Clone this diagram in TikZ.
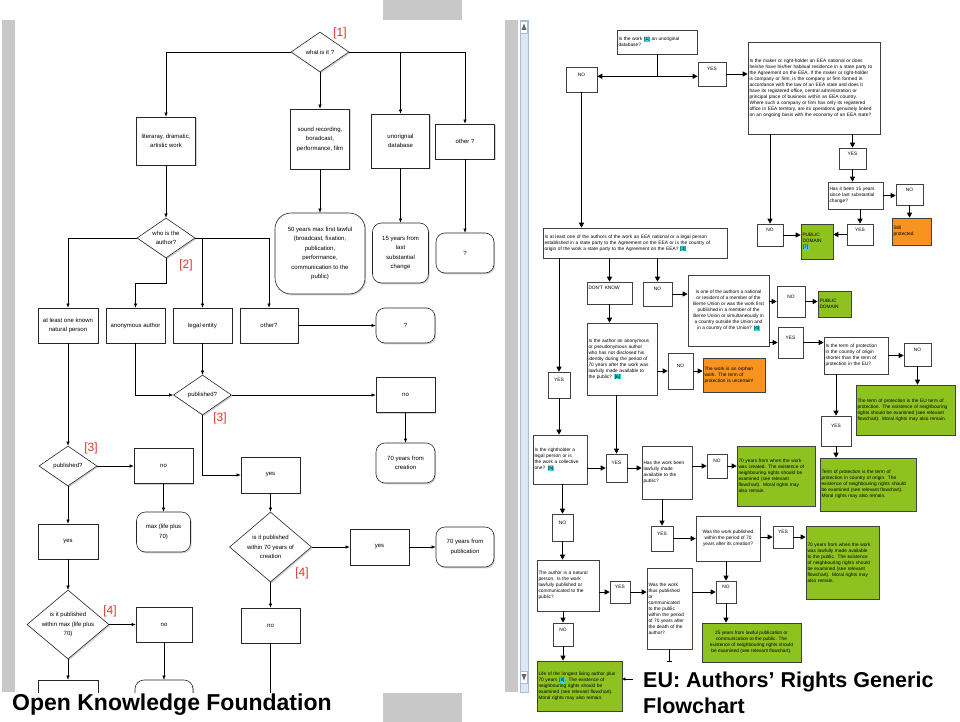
\documentclass[tikz,border=0pt]{standalone}
\usepackage{fontspec}
\setmainfont{Liberation Sans}
\usetikzlibrary{arrows.meta,shapes.geometric,shadows}
\definecolor{slate}{HTML}{C8C8C8}
\definecolor{tagred}{HTML}{D8392B}
\definecolor{leaf}{HTML}{8DC21F}
\definecolor{amber}{HTML}{F7931E}
\definecolor{cyanmark}{HTML}{3FD3E0}
\definecolor{scroll}{HTML}{DDE7F3}
\definecolor{scrolledge}{HTML}{A8BCD6}
\newcommand{\fnref}[1]{{\setlength{\fboxsep}{0.4pt}\colorbox{cyanmark}{#1}}}

\begin{document}
\begin{tikzpicture}[x=1pt,y=-1pt,
 lbox/.style={draw=black!85,line width=.6pt,fill=white,align=center,inner sep=1pt,font=\fontsize{6}{9.5}\selectfont,drop shadow={shadow xshift=1.2pt,shadow yshift=-1.4pt,opacity=.35}},
 lend/.style={lbox,rounded corners=9pt},
 ldec/.style={lbox,diamond,inner sep=-5pt,shape aspect=1.3},
 link/.style={-{Latex[length=4pt,width=3.2pt]},line width=.5pt},
 tag/.style={text=tagred,inner sep=0pt,font=\fontsize{12}{12}\selectfont},
 rbox/.style={draw=black!75,line width=.6pt,fill=white,align=left,inner sep=1.5pt,font=\fontsize{4.8}{6}\selectfont},
 rmid/.style={rbox,align=center},
 ryn/.style={rbox,align=center,text height=3.5pt,text depth=10pt},
 rgreen/.style={rbox,fill=leaf},
 rorange/.style={rbox,fill=amber},
 rlink/.style={-{Triangle[length=5pt,width=5pt]},line width=.9pt},
 title/.style={font=\fontsize{23}{26}\selectfont\bfseries,inner sep=0pt,align=left}]
 \fill[white] (0,0) rectangle (960,722);
 \useasboundingbox (0,0) rectangle (960,722);
 % slide frame
 \fill[slate] (383,0) rectangle (462,20);
 \fill[slate] (383,693) rectangle (462,722);
 \fill[slate] (2,20) rectangle (15,692);
 \fill[slate] (505,20) rectangle (518,692);
 \draw[scrolledge,fill=scroll] (520,20) rectangle (528,692);
 \draw[scrolledge,fill=white] (520.5,21) rectangle (527.5,33);
 \draw[scrolledge,fill=white] (520.5,671) rectangle (527.5,683);
 \fill[black!60] (521.5,30) -- (524,23.5) -- (526.5,30) -- cycle;
 \fill[black!60] (521.5,674) -- (524,680.5) -- (526.5,674) -- cycle;

 % left flowchart
 \begin{scope}
 \clip (15,20) rectangle (505,692);
 \node[ldec,minimum width=58pt,minimum height=40pt] (what) at (320,52) {what is it ?};
 \node[lbox,minimum width=59pt,minimum height=48pt] (lit) at (166,141) {literaray, dramatic,\\artistic work};
 \node[lbox,minimum width=59pt,minimum height=60pt] (snd) at (320,139) {sound recording,\\boradcast,\\performance, film};
 \node[lbox,minimum width=58pt,minimum height=54pt] (udb) at (400.5,141) {unorignial\\database};
 \node[lbox,minimum width=59pt,minimum height=35pt] (oth) at (465,141.5) {other ?};
 \node[ldec,minimum width=58pt,minimum height=40pt] (who) at (166,238) {who is the\\author?};
 \node[lend,rounded corners=16pt,minimum width=90pt,minimum height=81pt] (fifty) at (320,253.5) {50 years max first lawful\\(broadcast, fixation,\\publication,\\performance,\\communication to the\\public)};
 \node[lend,minimum width=56pt,minimum height=60pt] (u15) at (400.5,253) {15 years from\\last\\substantial\\change};
 \node[lend,minimum width=58pt,minimum height=40pt] (uq) at (465,253) {?};
 \node[lbox,minimum width=60pt,minimum height=35pt] (nat) at (68,325.5) {at least one known\\natural person};
 \node[lbox,minimum width=59pt,minimum height=35pt] (anon) at (135.5,325.5) {anonymous author};
 \node[lbox,minimum width=59pt,minimum height=35pt] (leg) at (202.5,325.5) {legal entity};
 \node[lbox,minimum width=58pt,minimum height=35pt] (oth2) at (269,325.5) {other?};
 \node[lend,minimum width=59pt,minimum height=35pt] (oq) at (405.5,325.5) {?};
 \node[ldec,minimum width=58pt,minimum height=40pt] (pub1) at (202.5,395) {published?};
 \node[lbox,minimum width=59pt,minimum height=35pt] (no1) at (405.5,395) {no};
 \node[lend,minimum width=59pt,minimum height=40pt] (cre) at (405.5,463) {70 years from\\creation};
 \node[lbox,minimum width=59pt,minimum height=36pt] (yes1) at (270.5,475) {yes};
 \node[ldec,minimum width=58pt,minimum height=40pt] (pub2) at (68,466) {published?};
 \node[lbox,minimum width=59pt,minimum height=35pt] (no2) at (163.5,466) {no};
 \node[lend,minimum width=54pt,minimum height=40pt] (maxl) at (163.5,532) {max (life plus\\70)};
 \node[lbox,minimum width=60pt,minimum height=35pt] (yes2) at (68,541.5) {yes};
 \node[ldec,minimum width=82pt,minimum height=69pt] (with1) at (68,624.5) {is it published\\within max (life plus\\70)};
 \node[lbox,minimum width=56pt,minimum height=35pt] (no3) at (164,624.5) {no};
 \node[ldec,minimum width=82pt,minimum height=70pt] (with2) at (270.5,547) {is it published\\within 70 years of\\creation};
 \node[lbox,minimum width=59pt,minimum height=36pt] (yes3) at (379.5,547) {yes};
 \node[lend,minimum width=58pt,minimum height=40pt] (pub70) at (465,547) {70 years from\\publication};
 \node[lbox,minimum width=59pt,minimum height=35pt] (no4) at (270.5,625.5) {no};
 \node[lbox,minimum width=60pt,minimum height=35pt] (cut1) at (68,697.5) {};
 \node[lend,minimum width=58pt,minimum height=35pt] (cut2) at (164,697.5) {};
 \coordinate (no4end) at (270.5,700);
 \draw[link] (what.west) -| (lit.north);
 \draw[link] (what.south) -- (snd.north);
 \draw[link] (what.east) -| (udb.north);
 \draw[link] (what.east) -| (oth.north);
 \draw[link] (lit.south) -- (who.north);
 \draw[link] (snd.south) -- (fifty.north);
 \draw[link] (udb.south) -- (u15.north);
 \draw[link] (oth.south) -- (uq.north);
 \draw[link] (who.west) -| (nat.north);
 \draw[link] (who.east) -| (leg.north);
 \draw[link] (who.east) -| (oth2.north);
 \draw[link] (who.south) -- ++(0,25) -| (anon.north);
 \draw[link] (oth2.east) -- (oq.west);
 \draw[link] (anon.south) |- (pub1.west);
 \draw[link] (leg.south) -- (pub1.north);
 \draw[link] (pub1.east) -- (no1.west);
 \draw[link] (no1.south) -- (cre.north);
 \draw[link] (pub1.south) |- (yes1.west);
 \draw[link] (nat.south) -- (pub2.north);
 \draw[link] (pub2.east) -- (no2.west);
 \draw[link] (no2.south) -- (maxl.north);
 \draw[link] (pub2.south) -- (yes2.north);
 \draw[link] (yes2.south) -- (with1.north);
 \draw[link] (with1.east) -- (no3.west);
 \draw[link] (with1.south) -- (cut1.north);
 \draw[link] (no3.south) -- (cut2.north);
 \draw[link] (yes1.south) -- (with2.north);
 \draw[link] (with2.east) -- (yes3.west);
 \draw[link] (yes3.east) -- (pub70.west);
 \draw[link] (with2.south) -- (no4.north);
 \draw[line width=.5pt] (no4.south) -- (no4end);
 \node[tag] (t1) at (340,33) {[1]};
 \node[tag] (t2) at (186,265) {[2]};
 \node[tag] (t3) at (220,418) {[3]};
 \node[tag] (t3b) at (91,448) {[3]};
 \node[tag] (t4) at (110,611) {[4]};
 \node[tag] (t4b) at (302,573) {[4]};
 \end{scope}

 % right flowchart
 \node[rbox,text width=77pt,minimum height=24pt] (r_db) at (657,42) {Is the work \fnref{[1]} an unoriginal\\database?};
 \node[ryn,minimum width=31pt,minimum height=25pt] (r_no1) at (581.5,79.5) {NO};
 \node[ryn,minimum width=28pt,minimum height=24pt] (r_yes1) at (712,74) {YES};
 \node[rbox,text width=129pt,minimum height=92pt] (r_maker) at (814,88) {Is the maker or right-holder an EEA national or does\\he/she have his/her habitual residence in a state party to\\the Agreement on the EEA. If the maker or right-holder\\is company or firm, is the company or firm formed in\\accordance with the law of an EEA state and does it\\have its registered office, central administration or\\principal place of business within an EEA country.\\Where such a company or firm has only its registered\\office in EEA territory, are its operations genuinely linked\\on an ongoing basis with the economy of an EEA state?};
 \node[ryn,minimum width=26pt,minimum height=22pt] (r_no2) at (770,235) {NO};
 \node[ryn,minimum width=27pt,minimum height=21pt] (r_yes2) at (852.5,158.5) {YES};
 \node[rbox,text width=52pt,minimum height=27pt] (r_15y) at (855.5,195.5) {Has it been 15 years\\since last substantial\\change?};
 \node[ryn,minimum width=27pt,minimum height=21pt] (r_no3) at (909.5,194.5) {NO};
 \node[rorange,text width=36pt,minimum height=27pt] (r_still) at (911.5,231.5) {Still\\protected};
 \node[ryn,minimum width=26pt,minimum height=21pt] (r_yes3) at (860,234.5) {YES};
 \node[rgreen,text width=29pt,minimum height=35pt] (r_pd1) at (817,241.5) {PUBLIC\\DOMAIN\\\fnref{[7]}};
 \node[rbox,text width=181pt,minimum height=30pt] (r_eea) at (635,243) {Is at least one of the authors of the work an EEA national or a legal person\\established in a state party to the Agreement on the EEA or is the country of\\origin of the work a state party to the Agreement on the EEA? \fnref{[3]}};
 \node[rbox,text width=42pt,text height=3.5pt,text depth=10pt,minimum height=22pt] (r_dk) at (609.5,293) {DON'T KNOW};
 \node[ryn,minimum width=29pt,minimum height=24pt] (r_no4) at (657.5,294) {NO};
 \node[rmid,minimum width=81pt,minimum height=71pt] (r_berne) at (728.5,310.5) {Is one of the authors a national\\or resident of a member of the\\Berne Union or was the work first\\published in a member of the\\Berne Union or simultaneously in\\a country outside the Union and\\in a country of the Union? \fnref{[4]}};
 \node[ryn,minimum width=28pt,minimum height=31pt] (r_no5) at (791,301.5) {NO};
 \node[rgreen,text width=30pt,minimum height=26pt] (r_pd2) at (834.5,304) {PUBLIC\\DOMAIN};
 \node[ryn,minimum width=25pt,minimum height=31pt] (r_yes4) at (790.5,342.5) {YES};
 \node[rbox,text width=61pt,minimum height=37pt] (r_term) at (856,355.5) {Is the term of protection\\in the country of origin\\shorter than the term of\\protection in the EU?};
 \node[ryn,minimum width=27pt,minimum height=23pt] (r_no6) at (917.5,354.5) {NO};
 \node[rgreen,text width=96pt,minimum height=50pt] (r_euterm) at (905.5,410) {The term of protection is the EU term of\\protection. The existence of neighbouring\\rights should be examined (see relevant\\flowchart). Moral rights may also remain.};
 \node[ryn,minimum width=30pt,minimum height=30pt] (r_yes5) at (836,431) {YES};
 \node[rgreen,text width=93pt,minimum height=53pt] (r_origin) at (868,484.5) {Term of protection is the term of\\protection in country of origin. The\\existence of neighbouring rights should\\be examined (see relevant flowchart).\\Moral rights may also remain.};
 \node[rbox,text width=67pt,minimum height=72pt] (r_anon) at (622,359) {Is the author an anonymous\\or pseudonymous author\\who has not disclosed his\\identity during the period of\\70 years after the work was\\lawfully made available to\\the public? \fnref{[6]}};
 \node[ryn,minimum width=25pt,minimum height=36pt] (r_no7) at (680.5,371) {NO};
 \node[rorange,text width=59pt,minimum height=34pt] (r_orphan) at (734,375) {The work is an orphan\\work. The term of\\protection is uncertain!};
 \node[ryn,minimum width=22pt,minimum height=26pt] (r_yes6) at (559,385) {YES};
 \node[ryn,minimum width=21pt,minimum height=28pt] (r_yes7) at (616.5,468) {YES};
 \node[rbox,text width=51pt,minimum height=49pt] (r_legal) at (560,459.5) {Is the rightholder a\\legal person or is\\the work a collective\\one? \fnref{[5]}};
 \node[rbox,text width=47pt,minimum height=53pt] (r_avail) at (667,472.5) {Has the work been\\lawfully made\\available to the\\public?};
 \node[ryn,minimum width=20pt,minimum height=24pt] (r_no8) at (717,466) {NO};
 \node[rgreen,text width=75pt,minimum height=60pt] (r_created) at (776,476) {70 years from when the work\\was created. The existence of\\neighbouring rights should be\\examined (see relevant\\flowchart). Moral rights may\\also remain.};
 \node[ryn,minimum width=22pt,minimum height=25pt] (r_yes8) at (662,538.5) {YES};
 \node[rmid,minimum width=64pt,minimum height=45pt] (r_within) at (728,538.5) {Was the work published\\within the period of 70\\years after its creation?};
 \node[ryn,minimum width=20pt,minimum height=22pt] (r_yes9) at (783,537) {YES};
 \node[rgreen,text width=70pt,minimum height=73pt] (r_madeav) at (842.5,562.5) {70 years from when the work\\was lawfully made available\\to the public. The existence\\of neighbouring rights should\\be examined (see relevant\\flowchart). Moral rights may\\also remain.};
 \node[ryn,minimum width=20pt,minimum height=22pt] (r_no9) at (726,592) {NO};
 \node[rgreen,align=center,minimum width=99pt,minimum height=39pt] (r_25y) at (751.5,642.5) {25 years from lawful publication or\\communication to the public. The\\existence of neighbouring rights should\\be examined (see relevant flowchart).};
 \node[ryn,minimum width=21pt,minimum height=27pt] (r_no10) at (562.5,527.5) {NO};
 \node[rbox,text width=59pt,minimum height=51pt] (r_natural) at (568,585.5) {The author is a natural\\person. Is the work\\lawfully published or\\communicated to the\\public?};
 \node[ryn,minimum width=20pt,minimum height=22pt] (r_yes10) at (620,592) {YES};
 \node[rbox,text width=42pt,minimum height=81pt] (r_thus) at (669.5,608.5) {Was the work\\thus published\\or\\communicated\\to the public\\within the period\\of 70 years after\\the death of the\\author?};
 \node[ryn,minimum width=20pt,minimum height=23pt] (r_no11) at (563,634.5) {NO};
 \node[rgreen,text width=82pt,minimum height=50pt] (r_life) at (579.5,686) {Life of the longest living author plus\\70 years \fnref{[8]}. The existence of\\neighbouring rights should be\\examined (see relevant flowchart).\\Moral rights may also remain.};
 \coordinate (r_thusend) at (669.5,662);
 \coordinate (r_ptr) at (633,679);
 \draw[line width=.9pt] (r_db.south) -- ++(0,22) coordinate (r_fork);
 \draw[rlink] (r_fork) -- (r_fork -| r_no1.east);
 \draw[rlink] (r_fork) -- (r_fork -| r_yes1.west);
 \draw[rlink] (r_yes1.east) -- (r_yes1.east -| r_maker.west);
 \draw[rlink] (r_no1.south) -- (r_no1.south |- r_eea.north);
 \draw[rlink] (r_no2.north |- r_maker.south) -- (r_no2.north);
 \draw[rlink] (r_yes2.north |- r_maker.south) -- (r_yes2.north);
 \draw[rlink] (r_yes2.south) -- (r_yes2.south |- r_15y.north);
 \draw[rlink] (r_15y.east) -- (r_15y.east -| r_no3.west);
 \draw[rlink] (r_no3.south) -- (r_no3.south |- r_still.north);
 \draw[rlink] (r_yes3.north |- r_15y.south) -- (r_yes3.north);
 \draw[rlink] (r_yes3.west) -- (r_yes3.west -| r_pd1.east);
 \draw[rlink] (r_no2.east) -- (r_no2.east -| r_pd1.west);
 \draw[rlink] (r_yes6.north |- r_eea.south) -- (r_yes6.north);
 \draw[rlink] (r_dk.north |- r_eea.south) -- (r_dk.north);
 \draw[rlink] (r_no4.north |- r_eea.south) -- (r_no4.north);
 \draw[rlink] (r_no4.east) -- (r_no4.east -| r_berne.west);
 \draw[rlink] (r_no5.west -| r_berne.east) -- (r_no5.west);
 \draw[rlink] (r_no5.east) -- (r_no5.east -| r_pd2.west);
 \draw[rlink] (r_yes4.west -| r_berne.east) -- (r_yes4.west);
 \draw[rlink] (r_yes4.east) -- (r_yes4.east -| r_term.west);
 \draw[rlink] (r_term.east) -- (r_term.east -| r_no6.west);
 \draw[rlink] (r_no6.south) -- (r_no6.south |- r_euterm.north);
 \draw[rlink] (r_yes5.north |- r_term.south) -- (r_yes5.north);
 \draw[rlink] (r_yes5.south) -- (r_yes5.south |- r_origin.north);
 \draw[rlink] (r_dk.south) -- (r_dk.south |- r_anon.north);
 \draw[rlink] (r_no7.west -| r_anon.east) -- (r_no7.west);
 \draw[rlink] (r_no7.east) -- (r_no7.east -| r_orphan.west);
 \draw[rlink] (r_yes7.north |- r_anon.south) -- (r_yes7.north);
 \draw[rlink] (r_yes6.south) -- (r_yes6.south |- r_legal.north);
 \draw[rlink] (r_yes7.west -| r_legal.east) -- (r_yes7.west);
 \draw[rlink] (r_yes7.east) -- (r_yes7.east -| r_avail.west);
 \draw[rlink] (r_no8.west -| r_avail.east) -- (r_no8.west);
 \draw[rlink] (r_no8.east) -- (r_no8.east -| r_created.west);
 \draw[rlink] (r_yes8.north |- r_avail.south) -- (r_yes8.north);
 \draw[rlink] (r_yes8.east) -- (r_yes8.east -| r_within.west);
 \draw[rlink] (r_yes9.west -| r_within.east) -- (r_yes9.west);
 \draw[rlink] (r_yes9.east) -- (r_yes9.east -| r_madeav.west);
 \draw[rlink] (r_no9.north |- r_within.south) -- (r_no9.north);
 \draw[rlink] (r_no9.south) -- (r_no9.south |- r_25y.north);
 \draw[rlink] (r_no10.north |- r_legal.south) -- (r_no10.north);
 \draw[rlink] (r_no10.south) -- (r_no10.south |- r_natural.north);
 \draw[rlink] (r_yes10.west -| r_natural.east) -- (r_yes10.west);
 \draw[rlink] (r_yes10.east) -- (r_yes10.east -| r_thus.west);
 \draw[rlink] (r_no9.west -| r_thus.east) -- (r_no9.west);
 \draw[-{Bar[width=5pt]},line width=.9pt] (r_thus.south) -- (r_thusend);
 \draw[rlink] (r_no11.north |- r_natural.south) -- (r_no11.north);
 \draw[rlink] (r_no11.south) -- (r_no11.south |- r_life.north);
 \draw[-{Triangle[length=3pt,width=3pt]},line width=.7pt] (r_ptr) -- (r_ptr -| r_life.east);

 % slide titles
 \node[title,anchor=base west] (okf) at (12,710) {Open Knowledge Foundation};
 \node[title,font=\fontsize{21.5}{26}\selectfont\bfseries,anchor=north west] (eutitle) at (643,672) {EU: Authors’ Rights Generic\\Flowchart};
\end{tikzpicture}
\end{document}
